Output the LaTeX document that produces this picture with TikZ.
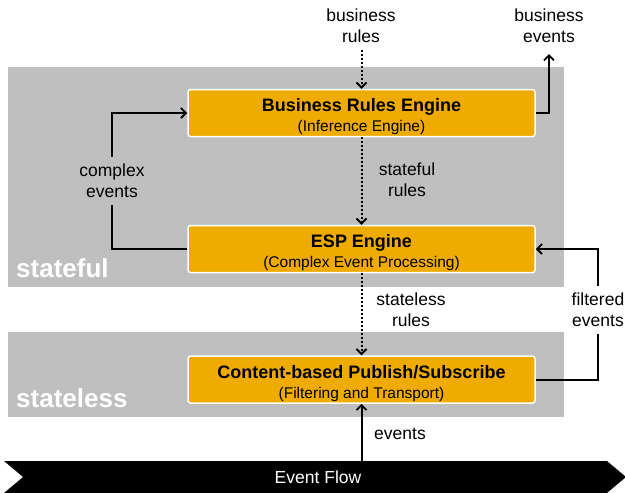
\documentclass[tikz,border=0pt]{standalone}
\usepackage{fontspec}
\setmainfont{Liberation Sans}
\usetikzlibrary{arrows.meta,shapes.symbols}
\definecolor{layergray}{HTML}{BFBFBF}
\definecolor{enginegold}{HTML}{F0AB00}
% two-line engine caption: bold name over a lighter description
\newcommand{\enginetext}[2]{\rule{0pt}{21pt}{\fontsize{18}{18}\selectfont\bfseries #1}\\[2pt]#2}
\begin{document}
\begin{tikzpicture}[x=1pt,y=-1pt,
  layer/.style={fill=layergray, inner sep=0pt, anchor=north west},
  layername/.style={text=white, font=\fontsize{26}{30}\selectfont\bfseries, anchor=base west, inner sep=0pt},
  engine/.style={draw=white, line width=1.5pt, fill=enginegold, rounded corners=2.5pt,
    minimum width=347pt, minimum height=47pt, align=center, inner sep=0pt,
    font=\fontsize{15.5}{18}\selectfont},
  lbl/.style={align=center, font=\fontsize{17.5}{21}\selectfont, inner xsep=0pt, inner ysep=7pt},
  wire/.style={line width=2pt},
  flow/.style={wire, -{Straight Barb[length=5pt,width=10pt,line width=1.8pt]}},
  rulelink/.style={flow, dotted}]

\useasboundingbox (0,0) rectangle (625,493);

% background layers
\node[layer, minimum width=556pt, minimum height=220pt] (statefulbg) at (8,67) {};
\node[layer, minimum width=556pt, minimum height=85pt] (statelessbg) at (8,332) {};
\node[layername] (statefulname) at (16,277) {stateful};
\node[layername] (statelessname) at (16,407) {stateless};

% engines
\node[engine] (bre) at (361.5,113) {\enginetext{Business Rules Engine}{(Inference Engine)}};
\node[engine] (esp) at (361.5,249) {\enginetext{ESP Engine}{(Complex Event Processing)}};
\node[engine] (cbps) at (361.5,379.5) {\enginetext{Content-based Publish/Subscribe}{(Filtering and Transport)}};

% event flow band
\node[signal, signal from=west, signal to=east, signal pointer angle=80,
  fill=black, text=white, inner sep=0pt, minimum width=622pt, minimum height=32pt,
  font=\fontsize{17.5}{21}\selectfont] (flowband) at (315,477) {\hspace*{6pt}Event Flow};

% labels
\node[lbl] (brlbl) at (361,26) {business\\rules};
\node[lbl] (belbl) at (549,26) {business\\events};
\node[lbl] (celbl) at (112,181) {complex\\events};
\node[lbl] (sflbl) at (407,180) {stateful\\rules};
\node[lbl] (sllbl) at (411,310) {stateless\\rules};
\node[lbl] (felbl) at (598,310) {filtered\\events};
\node[lbl, anchor=base, inner sep=0pt] (evlbl) at (400,439) {events};

% rule links
\draw[rulelink] (brlbl.south -| bre.north) -- (bre.north);
\draw[rulelink] (bre.south) -- (esp.north);
\draw[rulelink] (esp.south) -- (cbps.north);

% event links
\draw[flow, shorten >=4pt] (bre.east) -| (belbl.south);
\draw[wire] (esp.west) -| (celbl.south);
\draw[flow] (celbl.north) |- (bre.west);
\draw[wire] (cbps.east) -| (felbl.south);
\draw[flow] (felbl.north) |- (esp.east);
\draw[flow] (flowband.north -| cbps.south) -- (cbps.south);
\end{tikzpicture}
\end{document}
